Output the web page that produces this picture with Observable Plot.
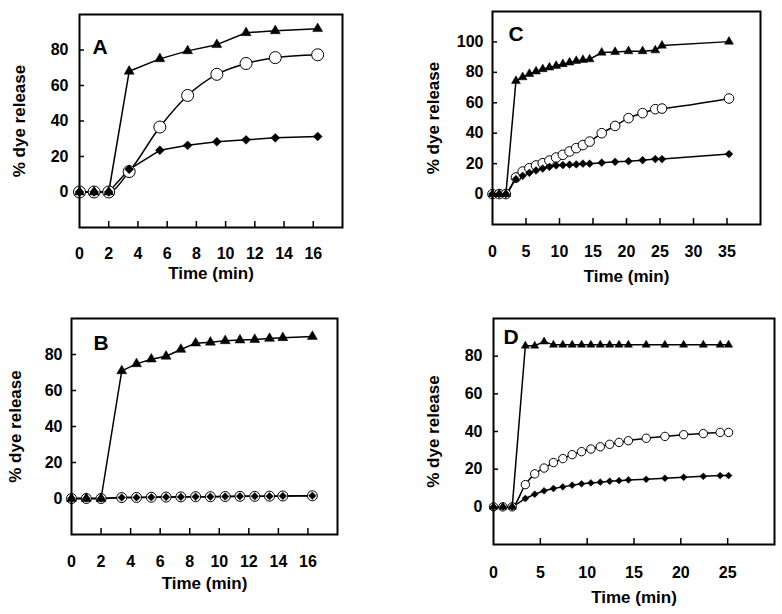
<!DOCTYPE html>
<html>
<head>
<meta charset="utf-8">
<script src="https://cdn.jsdelivr.net/npm/d3@7"></script>
<script src="https://cdn.jsdelivr.net/npm/@observablehq/plot@0.6"></script>
<style>
  html, body { margin: 0; padding: 0; background: #fff; }
  #chart { position: relative; width: 782px; height: 614px; background: #fff; }
  #chart > svg { position: absolute; overflow: visible; }
</style>
</head>
<body>
<div id="chart"></div>
<script>
// ---------- Panel A ----------
const aTime     = [0, 1, 2, 3.4, 5.5, 7.4, 9.4, 11.4, 13.4, 16.3];
const aTriangle = [0, 0, 0, 68, 75, 79.5, 83, 89.7, 90.8, 92];
const aCircle   = [0, 0, 0, 11.5, 36.6, 54.4, 66.3, 72.4, 75.7, 77.3];
const aDiamond  = [0, 0, 0, 12.8, 23.5, 26.3, 28.3, 29.4, 30.5, 31.3];

// ---------- Panel B ----------
const bTime     = [0, 1, 2, 3.4, 4.4, 5.4, 6.4, 7.4, 8.4, 9.4, 10.4, 11.4, 12.4, 13.4, 14.3, 16.3];
const bTriangle = [0, 0, 0, 70.9, 74.8, 77.4, 79, 82.8, 86.3, 86.8, 87.6, 88, 88.3, 88.9, 89.3, 90];
const bCircle   = [0, 0, 0, 0.5, 0.6, 0.7, 0.8, 0.9, 1, 1, 1.1, 1.2, 1.2, 1.3, 1.4, 1.5];
const bDiamond  = [0, 0, 0, 0.5, 0.6, 0.7, 0.8, 0.9, 1, 1, 1.1, 1.2, 1.2, 1.3, 1.4, 1.5];

// ---------- Panel C ----------
const cTime     = [0, 1, 2, 3.5, 4.5, 5.5, 6.5, 7.5, 8.5, 9.5, 10.5, 11.5, 12.5, 13.5, 14.5, 16.3, 18.3, 20.3, 22.4, 24.3, 25.3, 35.3];
const cTriangle = [0, 0, 0, 74.4, 76.8, 79, 80.6, 82.1, 83.2, 84.3, 85.4, 86.5, 87.5, 88.2, 88.6, 93, 93.4, 93.9, 93.9, 94.5, 97.6, 100.2];
const cCircle   = [0, 0, 0, 10.9, 14.8, 17, 18.8, 20.3, 22, 24, 25.8, 28, 30.2, 32.2, 34.5, 40, 44.8, 49.9, 53.2, 55.8, 56.2, 62.8];
const cDiamond  = [0, 0, 0, 9.8, 12, 14, 15.5, 16.8, 17.9, 18.8, 19.1, 19.3, 19.5, 20, 20, 20.6, 21.2, 21.6, 22.3, 23, 23, 26.3];

// ---------- Panel D ----------
const dTime     = [0, 1, 2, 3.4, 4.4, 5.4, 6.4, 7.4, 8.4, 9.4, 10.4, 11.4, 12.4, 13.4, 14.4, 16.3, 18.3, 20.3, 22.4, 24.2, 25.1];
const dTriangle = [0, 0, 0, 85.5, 85.5, 87.7, 86, 86, 86, 86, 86, 86, 86, 86, 86, 86, 86, 86, 86, 86, 86];
const dCircle   = [0, 0, 0, 11.8, 17.5, 20.6, 23.5, 25.6, 27.7, 29.3, 30.7, 31.9, 33.2, 34.2, 35.1, 36.4, 37.4, 38.3, 38.9, 39.5, 39.5];
const dDiamond  = [0, 0, 0, 4.4, 6.7, 8.5, 9.7, 10.6, 11.5, 12.2, 12.7, 13.1, 13.6, 13.9, 14.3, 14.6, 15.2, 15.7, 16.2, 16.6, 16.6];

// ---------- Tick labels ----------
const abXTicks = [0, 2, 4, 6, 8, 10, 12, 14, 16];
const cXTicks  = [0, 5, 10, 15, 20, 25, 30, 35];
const dXTicks  = [0, 5, 10, 15, 20, 25];
const yTicks80  = [0, 20, 40, 60, 80];
const yTicks100 = [0, 20, 40, 60, 80, 100];

const xLabel = "Time (min)";
const yLabel = "% dye release";

const FONT = "'Liberation Sans', Arial, Helvetica, sans-serif";
const diamondSym = d3.symbolDiamond2 || "diamond";

function panel(cfg) {
  const rows = cfg.time.map((t, i) => ({t, tri: cfg.tri[i], circ: cfg.circ[i], dia: cfg.dia[i]}));
  const frameW = cfg.width - cfg.ml - cfg.mr;
  const frameH = cfg.height - cfg.mt - cfg.mb;
  const plot = Plot.plot({
    width: cfg.width,
    height: cfg.height,
    marginLeft: cfg.ml, marginRight: cfg.mr, marginTop: cfg.mt, marginBottom: cfg.mb,
    x: {domain: cfg.xDomain},
    y: {domain: cfg.yDomain},
    style: {fontFamily: FONT, fontWeight: "bold", fontSize: "16px", background: "transparent", color: "#000"},
    marks: [
      Plot.axisX(cfg.xTicks, {tickSize: 0, tickPadding: cfg.xPad, fontSize: 16, fontWeight: "bold", label: null}),
      Plot.axisY(cfg.yTicks, {tickSize: 0, tickPadding: cfg.yPad, fontSize: 16, fontWeight: "bold", label: null}),
      Plot.tickX(cfg.xTicks.filter(d => d > 0), {x: d => d, insetTop: frameH - 6, stroke: "#000", strokeWidth: 1.5}),
      Plot.tickY(cfg.yTicks, {y: d => d, insetRight: frameW - 5, stroke: "#000", strokeWidth: 1.5}),
      Plot.line(rows, {x: "t", y: "circ", stroke: "#000", strokeWidth: 1.5, curve: "monotone-x"}),
      Plot.line(rows, {x: "t", y: "dia", stroke: "#000", strokeWidth: 1.5}),
      Plot.line(rows, {x: "t", y: "tri", stroke: "#000", strokeWidth: 1.5}),
      Plot.dot(rows, {x: "t", y: "circ", r: cfg.rc, symbol: "circle", fill: "#fff", stroke: "#000", strokeWidth: 1}),
      Plot.dot(rows, {x: "t", y: "dia", r: cfg.rd, symbol: diamondSym, fill: "#000", stroke: "#000", strokeWidth: 0.5}),
      Plot.dot(rows, {x: "t", y: "tri", r: cfg.rt, symbol: "triangle", fill: "#000", stroke: "#000", strokeWidth: 0.5}),
      Plot.frame({stroke: "#000", strokeWidth: 2}),
      Plot.text([cfg.letter], {frameAnchor: "top-left", text: d => d, dx: cfg.ldx, dy: cfg.ldy,
        textAnchor: "start", lineAnchor: "top", fontSize: 21, fontWeight: "bold", fill: "#000"}),
      Plot.text([xLabel], {frameAnchor: "bottom", text: d => d, dy: cfg.xlDy, lineAnchor: "top",
        fontSize: 17, fontWeight: "bold", fill: "#000"}),
      Plot.text([yLabel], {frameAnchor: "left", text: d => d, dx: -cfg.ylDx, rotate: -90,
        textAnchor: "middle", lineAnchor: "middle", fontSize: 17, fontWeight: "bold", fill: "#000"})
    ]
  });
  plot.style.left = cfg.left + "px";
  plot.style.top = cfg.top + "px";
  return plot;
}

const chart = document.getElementById("chart");

chart.appendChild(panel({
  letter: "A", time: aTime, tri: aTriangle, circ: aCircle, dia: aDiamond,
  left: 0, top: 0, width: 360, height: 292, ml: 79, mr: 18, mt: 14, mb: 65,
  xDomain: [0, 18], yDomain: [-20, 100], xTicks: abXTicks, yTicks: yTicks80,
  xPad: 20, yPad: 11, xlDy: 39, ylDx: 60, ldx: 13, ldy: 25,
  rc: 6, rd: 4, rt: 3.7
}));

chart.appendChild(panel({
  letter: "B", time: bTime, tri: bTriangle, circ: bCircle, dia: bDiamond,
  left: 0, top: 300, width: 360, height: 314, ml: 71, mr: 23, mt: 18, mb: 80,
  xDomain: [0, 18], yDomain: [-20, 100], xTicks: abXTicks, yTicks: yTicks80,
  xPad: 21, yPad: 9, xlDy: 42, ylDx: 56, ldx: 22, ldy: 17,
  rc: 5, rd: 3.4, rt: 3.7
}));

chart.appendChild(panel({
  letter: "C", time: cTime, tri: cTriangle, circ: cCircle, dia: cDiamond,
  left: 400, top: 0, width: 382, height: 292, ml: 92, mr: 22, mt: 11, mb: 68,
  xDomain: [0, 40], yDomain: [-20, 120], xTicks: cXTicks, yTicks: yTicks100,
  xPad: 21, yPad: 9, xlDy: 45, ylDx: 59, ldx: 16, ldy: 15,
  rc: 4.8, rd: 3.5, rt: 3.3
}));

chart.appendChild(panel({
  letter: "D", time: dTime, tri: dTriangle, circ: dCircle, dia: dDiamond,
  left: 400, top: 300, width: 382, height: 314, ml: 93, mr: 8, mt: 18, mb: 70,
  xDomain: [0, 30], yDomain: [-20, 100], xTicks: dXTicks, yTicks: yTicks80,
  xPad: 22, yPad: 11, xlDy: 46, ylDx: 60, ldx: 10, ldy: 11,
  rc: 4.2, rd: 3.1, rt: 3.0
}));
</script>
</body>
</html>
